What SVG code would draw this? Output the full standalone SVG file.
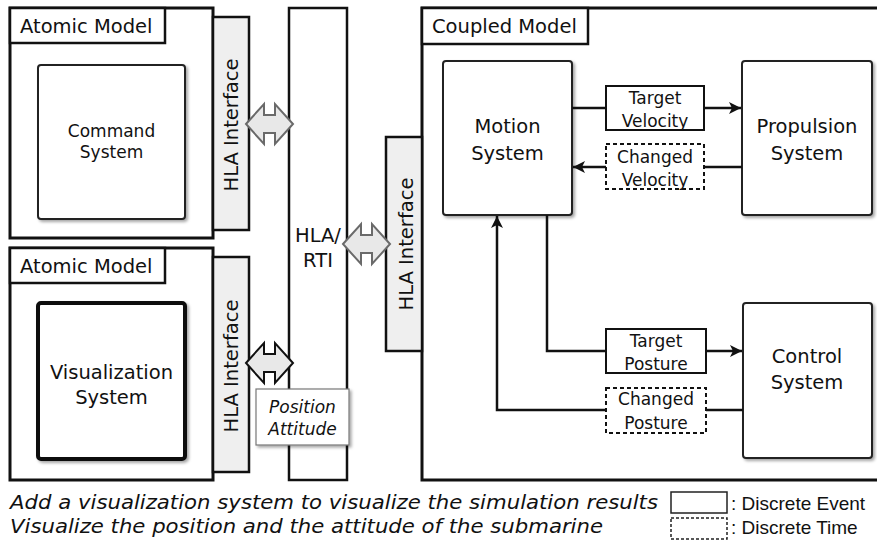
<svg xmlns="http://www.w3.org/2000/svg" width="877" height="552" viewBox="0 0 877 552">
  <style>
    text { font-family: "DejaVu Sans", "Liberation Sans", sans-serif; fill: #111; }
    .frame { fill: #fff; stroke: #111; stroke-width: 3; }
    .tag { fill: #fff; stroke: #111; stroke-width: 2.5; }
    .strip { fill: #efefef; stroke: #111; stroke-width: 2.5; }
    .sys { fill: #fff; stroke: #222; stroke-width: 2; filter: url(#shadow); }
    .msg { fill: #fff; stroke: #111; stroke-width: 2; }
    .msg-dt { fill: #fff; stroke: #111; stroke-width: 2; stroke-dasharray: 4 3; }
    .wire { fill: none; stroke: #111; stroke-width: 2.5; }
    .t19 { font-size: 19.5px; }
    .t17 { font-size: 17px; }
    .mid { text-anchor: middle; }
    .bi { fill: #e8e8e8; stroke-width: 2; stroke-linejoin: miter; }
    .key { font-family: "Liberation Sans", sans-serif; font-size: 19px; }
  </style>
  <defs>
    <filter id="shadow" x="-10%" y="-10%" width="125%" height="125%">
      <feDropShadow dx="2" dy="2" stdDeviation="1.5" flood-color="#000" flood-opacity="0.35"/>
    </filter>
    <marker id="head" markerUnits="userSpaceOnUse" markerWidth="14" markerHeight="12" refX="12" refY="6" orient="auto">
      <path d="M0,0 L12,6 L0,12 L3,6 Z" fill="#111"/>
    </marker>
    <!-- hollow double-headed block arrow, 47 wide, centred vertically on y=0 -->
    <path id="biarrow" d="M0,0 L18,-20 L18,-9 L29,-9 L29,-20 L47,0 L29,20 L29,9 L18,9 L18,20 Z"/>
  </defs>

  <!-- Atomic model: command system -->
  <g id="atomic-command">
    <rect class="frame" x="10" y="8" width="203" height="230"/>
    <rect class="tag" x="10" y="8" width="155" height="35"/>
    <text class="t19" x="20" y="33">Atomic Model</text>
    <rect class="sys" x="38" y="65" width="147" height="154" rx="3"/>
    <text class="t17 mid" x="111.5" y="137">Command</text>
    <text class="t17 mid" x="111.5" y="158">System</text>
    <rect class="strip" x="213" y="17" width="36" height="213"/>
    <text class="t19 mid" transform="translate(238,125) rotate(-90)">HLA Interface</text>
  </g>

  <!-- Atomic model: visualization system -->
  <g id="atomic-visualization">
    <rect class="frame" x="10" y="248" width="203" height="232"/>
    <rect class="tag" x="10" y="248" width="155" height="35"/>
    <text class="t19" x="20" y="273">Atomic Model</text>
    <rect x="38" y="303" width="147" height="156" rx="3" fill="#fff" stroke="#111" stroke-width="4" filter="url(#shadow)"/>
    <text class="t19 mid" x="111.5" y="379">Visualization</text>
    <text class="t19 mid" x="111.5" y="404">System</text>
    <rect class="strip" x="213" y="257" width="36" height="215"/>
    <text class="t19 mid" transform="translate(238,366) rotate(-90)">HLA Interface</text>
  </g>

  <!-- Run-time infrastructure -->
  <g id="hla-rti">
    <rect x="289" y="8" width="58" height="472" fill="#fff" stroke="#111" stroke-width="2.5"/>
    <text class="t19 mid" x="318" y="242">HLA/</text>
    <text class="t19 mid" x="318" y="267">RTI</text>
  </g>

  <!-- Coupled model -->
  <g id="coupled-model">
    <rect class="frame" x="422" y="8" width="470" height="472"/>
    <rect class="tag" x="422" y="8" width="166" height="36"/>
    <text class="t19" x="432" y="33">Coupled Model</text>
    <rect class="strip" x="386" y="137" width="36" height="214"/>
    <text class="t19 mid" transform="translate(413,244) rotate(-90)">HLA Interface</text>
  </g>

  <g id="motion-system">
    <rect class="sys" x="443" y="61" width="129" height="154" rx="3"/>
    <text class="t19 mid" x="507.5" y="133">Motion</text>
    <text class="t19 mid" x="507.5" y="160">System</text>
  </g>

  <g id="propulsion-system">
    <rect class="sys" x="742" y="61" width="130" height="154" rx="3"/>
    <text class="t19 mid" x="807" y="133">Propulsion</text>
    <text class="t19 mid" x="807" y="160">System</text>
  </g>

  <g id="control-system">
    <rect class="sys" x="743" y="303" width="129" height="155" rx="3"/>
    <text class="t19 mid" x="807" y="363">Control</text>
    <text class="t19 mid" x="807" y="389">System</text>
  </g>

  <!-- Connectors -->
  <g id="connectors">
    <line class="wire" x1="572" y1="108" x2="741" y2="108" marker-end="url(#head)"/>
    <line class="wire" x1="742" y1="167" x2="573" y2="167" marker-end="url(#head)"/>
    <path class="wire" d="M547,215 V351 H742" marker-end="url(#head)"/>
    <path class="wire" d="M743,410 H497 V216" marker-end="url(#head)"/>
    <use href="#biarrow" x="246" y="124" class="bi" stroke="#6a6a6a"/>
    <use href="#biarrow" x="343" y="244" class="bi" stroke="#6a6a6a"/>
    <use href="#biarrow" x="246" y="363" class="bi" stroke="#111"/>
  </g>

  <!-- Message labels on connectors -->
  <g id="msg-target-velocity">
    <rect class="msg" x="606" y="86" width="98" height="44"/>
    <text class="t17 mid" x="655" y="104">Target</text>
    <text class="t17 mid" x="655" y="127">Velocity</text>
  </g>
  <g id="msg-changed-velocity">
    <rect class="msg-dt" x="606" y="144" width="98" height="45"/>
    <text class="t17 mid" x="655" y="163">Changed</text>
    <text class="t17 mid" x="655" y="186">Velocity</text>
  </g>
  <g id="msg-target-posture">
    <rect class="msg" x="606" y="329" width="100" height="44"/>
    <text class="t17 mid" x="656" y="347">Target</text>
    <text class="t17 mid" x="656" y="370">Posture</text>
  </g>
  <g id="msg-changed-posture">
    <rect class="msg-dt" x="606" y="388" width="100" height="45"/>
    <text class="t17 mid" x="656" y="405">Changed</text>
    <text class="t17 mid" x="656" y="429">Posture</text>
  </g>

  <g id="position-attitude">
    <rect x="256" y="389" width="93" height="56" fill="#fff" stroke="#777" stroke-width="1.2" filter="url(#shadow)"/>
    <text class="mid" x="302.5" y="413" font-size="17" font-style="italic" fill="#222">Position</text>
    <text class="mid" x="302.5" y="435" font-size="17" font-style="italic" fill="#222">Attitude</text>
  </g>

  <!-- Caption and legend -->
  <g id="caption">
    <text x="10" y="509" font-size="19" font-style="italic" fill="#222" textLength="648" lengthAdjust="spacingAndGlyphs">Add a visualization system to visualize the simulation results</text>
    <text x="10" y="533" font-size="19" font-style="italic" fill="#222" textLength="593" lengthAdjust="spacingAndGlyphs">Visualize the position and the attitude of the submarine</text>
  </g>
  <g id="legend">
    <rect x="671" y="492" width="56" height="21" fill="#fff" stroke="#222" stroke-width="1.5"/>
    <rect x="671" y="518" width="56" height="21" fill="#fff" stroke="#222" stroke-width="1.5" stroke-dasharray="3 2"/>
    <text class="key" x="731" y="510">: Discrete Event</text>
    <text class="key" x="731" y="534">: Discrete Time</text>
  </g>
</svg>
